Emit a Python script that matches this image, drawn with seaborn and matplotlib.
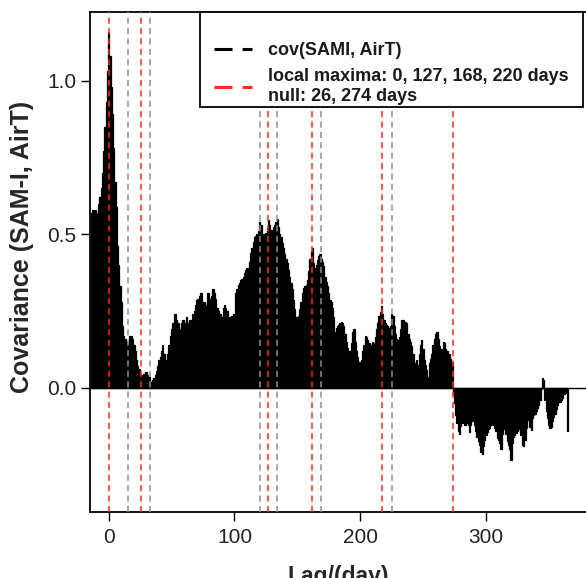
import numpy as np
import pandas as pd
import matplotlib
matplotlib.use("Agg")
import matplotlib.pyplot as plt
from matplotlib.lines import Line2D
from matplotlib.patches import Rectangle
import seaborn as sns

# lag in days, -14 .. 365
lag_first = -14
lag_last = 365

# covariance, one value per day
cov_lead = [0.57, 0.58, 0.57, 0.58, 0.57, 0.56, 0.60, 0.62, 0.65, 0.70, 0.77, 0.85, 0.93, 1.03]  # -14..-1
cov_000 = [1.16, 1.08, 0.98, 0.89, 0.78, 0.67, 0.59, 0.46, 0.40, 0.33,
           0.28, 0.20, 0.17, 0.16, 0.15, 0.11, 0.15, 0.17, 0.17, 0.16,
           0.14, 0.12, 0.09, 0.07, 0.06, 0.04, 0.03, 0.04, 0.045, 0.05,
           0.05, 0.04, 0.036, 0.02, 0.02, 0.025, 0.03, 0.04, 0.055, 0.07,
           0.09, 0.10, 0.12, 0.14, 0.11, 0.07, 0.09, 0.11, 0.14, 0.17,
           0.19, 0.21, 0.24, 0.24, 0.22, 0.21, 0.18, 0.19, 0.21, 0.22,
           0.19, 0.21, 0.23, 0.21, 0.22, 0.22, 0.18, 0.24, 0.25, 0.27,
           0.285, 0.29, 0.30, 0.31, 0.31, 0.28, 0.28, 0.27, 0.25, 0.31,
           0.29, 0.29, 0.30, 0.32, 0.31, 0.29, 0.26, 0.25, 0.24, 0.24,
           0.23, 0.26, 0.27, 0.26, 0.25, 0.225, 0.23, 0.23, 0.235, 0.24]
cov_100 = [0.20, 0.31, 0.32, 0.335, 0.34, 0.35, 0.355, 0.36, 0.375, 0.385,
           0.39, 0.37, 0.41, 0.44, 0.455, 0.475, 0.49, 0.495, 0.50, 0.51,
           0.54, 0.53, 0.50, 0.48, 0.50, 0.505, 0.52, 0.545, 0.53, 0.515,
           0.51, 0.525, 0.53, 0.54, 0.55, 0.525, 0.50, 0.49, 0.47, 0.455,
           0.435, 0.42, 0.405, 0.385, 0.36, 0.34, 0.32, 0.285, 0.255, 0.23,
           0.22, 0.235, 0.255, 0.28, 0.31, 0.325, 0.33, 0.335, 0.35, 0.38,
           0.42, 0.445, 0.455, 0.405, 0.39, 0.40, 0.415, 0.43, 0.435, 0.42,
           0.41, 0.395, 0.36, 0.345, 0.33, 0.31, 0.285, 0.28, 0.26, 0.23,
           0.18, 0.195, 0.20, 0.205, 0.21, 0.215, 0.21, 0.20, 0.175, 0.15,
           0.13, 0.12, 0.11, 0.145, 0.18, 0.19, 0.15, 0.12, 0.10, 0.085]
cov_200 = [0.065, 0.09, 0.12, 0.14, 0.17, 0.165, 0.155, 0.145, 0.12, 0.14,
           0.15, 0.145, 0.165, 0.19, 0.21, 0.235, 0.245, 0.265, 0.24, 0.22,
           0.21, 0.205, 0.20, 0.195, 0.20, 0.24, 0.235, 0.20, 0.175, 0.16,
           0.155, 0.165, 0.19, 0.22, 0.22, 0.215, 0.215, 0.21, 0.175, 0.16,
           0.15, 0.135, 0.11, 0.08, 0.07, 0.09, 0.075, 0.11, 0.14, 0.155,
           0.125, 0.09, 0.075, 0.058, 0.035, 0.08, 0.095, 0.11, 0.14, 0.16,
           0.175, 0.18, 0.16, 0.135, 0.12, 0.125, 0.15, 0.145, 0.125, 0.12,
           0.11, 0.11, 0.095, 0.085, -0.02, -0.05, -0.09, -0.115, -0.14, -0.15,
           -0.125, -0.115, -0.11, -0.12, -0.12, -0.115, -0.12, -0.145, -0.12, -0.11,
           -0.105, -0.12, -0.14, -0.16, -0.175, -0.185, -0.21, -0.215, -0.19, -0.17]
cov_300 = [-0.155, -0.145, -0.135, -0.13, -0.12, -0.115, -0.12, -0.13, -0.14, -0.165,
           -0.17, -0.18, -0.20, -0.15, -0.135, -0.127, -0.15, -0.175, -0.185, -0.20,
           -0.235, -0.18, -0.16, -0.155, -0.148, -0.14, -0.135, -0.132, -0.155, -0.185,
           -0.19, -0.17, -0.13, -0.08, -0.105, -0.127, -0.138, -0.10, -0.09, -0.085,
           -0.075, -0.065, -0.055, -0.04, -0.005, 0.03, 0.025, -0.04, -0.075, -0.10,
           -0.12, -0.132, -0.128, -0.11, -0.095, -0.085, -0.07, -0.055, -0.048, -0.046,
           -0.04, -0.032, -0.022, -0.018, -0.013, -0.14]

red_lags = [0, 26, 127, 162, 217, 274]
gray_lags = [15.5, 33, 120, 134, 168.5, 225]

cov = cov_lead + cov_000 + cov_100 + cov_200 + cov_300
df = pd.DataFrame({"lag": np.arange(lag_first, lag_last + 1), "cov": cov})

sns.set_style("ticks")
plt.rcParams["font.family"] = ["Liberation Sans", "DejaVu Sans"]

W, H = 586, 578
fig = plt.figure(figsize=(W / 100, H / 100), dpi=100)
ax_l, ax_r, ax_t, ax_b = 90.4, 586, 12, 511.8
ax = fig.add_axes([ax_l / W, 1 - ax_b / H, (ax_r - ax_l) / W, (ax_b - ax_t) / H])

sns.barplot(data=df, x="lag", y="cov", native_scale=True, color="black",
            saturation=1, width=1, errorbar=None, linewidth=0.9,
            edgecolor="black", ax=ax)

ax.axhline(0, color="black", lw=1.0, zorder=3)
dash = (0, (4.0, 2.8))
for x in gray_lags:
    ax.axvline(x, color="#8e8e8e", lw=1.1, ls=dash, zorder=4)
for x in red_lags:
    ax.axvline(x, color="#ff2a1a", lw=1.1, ls=dash, zorder=4)

ax.set_xlim(-14.6, 379.6)
ax.set_ylim(-0.4042, 1.2238)
ax.set_xticks([0, 100, 200, 300])
ax.set_xticklabels(["0", "100", "200", "300"])
ax.set_yticks([0.0, 0.5, 1.0])
ax.set_yticklabels(["0.0", "0.5", "1.0"])
ax.tick_params(axis="both", direction="out", length=6.5, width=1.0,
               labelsize=15, colors="black", labelcolor="#222222")
ax.tick_params(axis="x", pad=5)
ax.tick_params(axis="y", pad=3.5)
for s in ax.spines.values():
    s.set_linewidth(1.3)
    s.set_color("black")
ax.spines["right"].set_visible(False)

ax.set_xlabel("Lag/(day)", fontsize=16.5, fontweight="bold", labelpad=13)
ax.set_ylabel("Covariance (SAM-I, AirT)", fontsize=18, fontweight="bold")
ax.yaxis.set_label_coords(-0.113, 0.53)

# legend box drawn separately: R style, blank first line
def px(x, y):
    return ((x - ax_l) / (ax_r - ax_l), (ax_b - y) / (ax_b - ax_t))

x0, y0 = px(200, 107)
x1, y1 = px(583, 12)
ax.add_patch(Rectangle((x0, y0), x1 - x0, y1 - y0, transform=ax.transAxes,
                       facecolor="white", edgecolor="black", lw=1.3,
                       zorder=9, clip_on=False))

handles = [
    Line2D([], [], color="black", lw=2.2, ls=(0, (5.9, 3.3))),
    Line2D([], [], color="#ff2a1a", lw=2.2, ls=(0, (5.9, 3.3))),
]
labels = ["cov(SAMI, AirT)", "local maxima: 0, 127, 168, 220 days\nnull: 26, 274 days"]
leg = ax.legend(handles, labels, loc="upper left", bbox_to_anchor=px(214, 42),
                borderaxespad=0, borderpad=0, frameon=False,
                prop={"weight": "bold", "size": 13}, handlelength=2.1,
                handletextpad=0.9, labelspacing=0.5)
for t in leg.get_texts():
    t.set_color("#1a1a1a")
leg.set_zorder(10)

fig.savefig("out.png", dpi=100)
